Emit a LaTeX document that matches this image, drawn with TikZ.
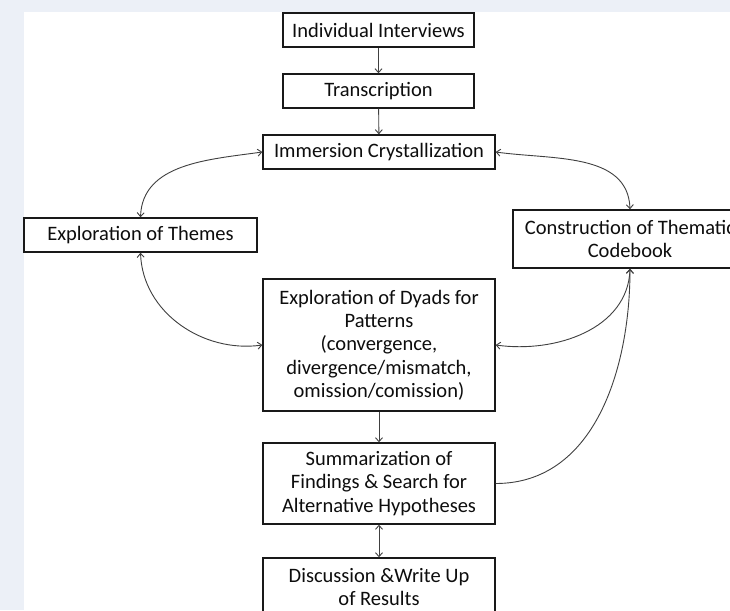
\documentclass[tikz,border=0pt]{standalone}
\usepackage{fontspec}
\setmainfont{Carlito}
\usetikzlibrary{arrows.meta}
\definecolor{bgc}{RGB}{236,240,247}
\begin{document}
\begin{tikzpicture}[x=1pt,y=-1pt,
  box/.style={draw=black!90, line width=1.4pt, fill=white, align=center, inner sep=0pt,
    font=\fontsize{20.5}{23.3}\selectfont, text=black!95},
  conn/.style={draw=black!75, line width=0.9pt, >={Straight Barb[length=4pt,width=7pt]}}]
\useasboundingbox (0,0) rectangle (730,610);
\clip (0,0) rectangle (730,610);
\fill[bgc] (0,0) rectangle (730,610);
\fill[white] (24,12) rectangle (730,610);

\node[box, minimum width=191pt, minimum height=34pt] (ii) at (378.5,30) {Individual Interviews};
\node[box, minimum width=191pt, minimum height=34pt] (tr) at (378.5,91) {Transcription};
\node[box, minimum width=232pt, minimum height=34pt] (ic) at (379,152) {Immersion Crystallization};
\node[box, minimum width=233pt, minimum height=34pt] (et) at (140.5,235) {Exploration of Themes};
\node[box, minimum width=234pt, minimum height=58pt] (cb) at (630,239) {Construction of Thematic\\Codebook};
\node[box, minimum width=232pt, minimum height=132pt] (dy) at (379,345) {Exploration of Dyads for\\Patterns\\(convergence,\\divergence/mismatch,\\omission/comission)};
\node[box, minimum width=232pt, minimum height=81pt] (su) at (379,483.5) {Summarization of\\Findings \& Search for\\Alternative Hypotheses};
\node[box, minimum width=232pt, minimum height=58pt] (di) at (379,587) {Discussion \&Write Up\\of Results};

\draw[conn,->] (ii) -- (tr);
\draw[conn,->] (tr) -- (ic);
\draw[conn,->] (dy) -- (su);
\draw[conn,<->] (su) -- (di);
\draw[conn,<->] (ic.west) to[out=188,in=88] (et.north);
\draw[conn,<->] (ic.east) to[out=-8,in=92] (cb.north);
\draw[conn,<->] (et.south) to[out=-88,in=188] (dy.west);
\draw[conn,<->] (cb.south) to[out=-92,in=-8] (dy.east);
\draw[conn,->] (su.east) to[out=0,in=-90] (cb.south);
\end{tikzpicture}
\end{document}
